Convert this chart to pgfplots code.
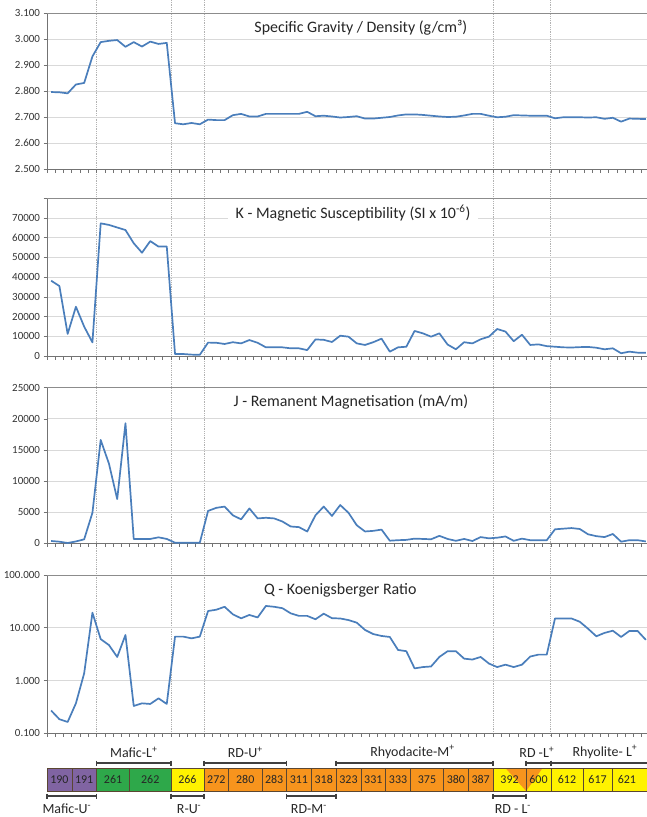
\documentclass[border=0pt]{standalone}
\usepackage{pgfplots}
\pgfplotsset{compat=1.18}
\usepackage{fontspec}
\setmainfont{Carlito}
\definecolor{lineblue}{RGB}{74,126,187}
\definecolor{cpurple}{RGB}{128,100,162}
\definecolor{cgreen}{RGB}{46,168,74}
\definecolor{cyellow}{RGB}{255,242,0}
\definecolor{corange}{RGB}{247,148,29}
\definecolor{cellline}{RGB}{90,70,50}
\tikzset{sline/.style={draw=lineblue, line width=1.7bp, mark=none, line join=round}}
\pgfplotsset{
  panel/.style={
    scale only axis, width=603bp, xmin=-0.5, xmax=72.5,
    anchor=north west,
    axis x line*=bottom, axis y line*=left,
    axis line style={draw=black!55, line width=0.9bp},
    xtick={-0.5,0.5,...,72.5}, xticklabels={},
    tick align=outside, major tick length=3.5bp,
    tick style={draw=black!55, line width=0.6bp},
    ymajorgrids, grid style={draw=black!15, line width=0.7bp},
    yticklabel style={font=\fontsize{11}{13}\selectfont, text=black!80},
    scaled y ticks=false,
  },
  frame/.style={hide axis, scale only axis, width=603bp, height=817bp,
    xmin=0, xmax=73, ymin=0, ymax=817, y dir=reverse, clip=false,
    at={(47bp,0bp)}, anchor=north west},
}
\begin{document}
\begin{tikzpicture}
\useasboundingbox (0,0) rectangle (647bp,-817bp);
% dotted group boundaries
\begin{axis}[frame]
\foreach \b in {6,15,19,54,61}{
  \edef\temp{\noexpand\draw[densely dotted, black!30, line width=0.8bp] (axis cs:\b,0) -- (axis cs:\b,736);}
  \temp
}
\end{axis}
% Panel 1: Specific gravity
\begin{axis}[panel, at={(47bp,-13bp)}, height=156bp,
  ymin=2.5, ymax=3.1, ytick={2.5,2.6,2.7,2.8,2.9,3.0,3.1},
  yticklabels={2.500,2.600,2.700,2.800,2.900,3.000,3.100}]
\draw[black!45, line width=0.8bp] (rel axis cs:0,1) -- (rel axis cs:1,1);
\addplot[sline] coordinates {(0,2.796)(1,2.795)(2,2.791)(3,2.825)(4,2.831)(5,2.933)(6,2.988)(7,2.993)(8,2.996)(9,2.970)(10,2.988)(11,2.971)(12,2.990)(13,2.981)(14,2.985)(15,2.676)(16,2.672)(17,2.677)(18,2.672)(19,2.690)(20,2.688)(21,2.688)(22,2.707)(23,2.712)(24,2.702)(25,2.702)(26,2.712)(27,2.712)(28,2.712)(29,2.712)(30,2.712)(31,2.720)(32,2.703)(33,2.705)(34,2.702)(35,2.698)(36,2.700)(37,2.703)(38,2.694)(39,2.694)(40,2.697)(41,2.700)(42,2.706)(43,2.710)(44,2.710)(45,2.708)(46,2.705)(47,2.702)(48,2.700)(49,2.701)(50,2.706)(51,2.712)(52,2.712)(53,2.705)(54,2.699)(55,2.701)(56,2.707)(57,2.706)(58,2.705)(59,2.705)(60,2.705)(61,2.695)(62,2.699)(63,2.699)(64,2.699)(65,2.698)(66,2.699)(67,2.693)(68,2.697)(69,2.682)(70,2.694)(71,2.693)(72,2.692)};
\end{axis}
% Panel 2: K
\begin{axis}[panel, at={(47bp,-198.3bp)}, height=157.7bp,
  ymin=0, ymax=80000, ytick={0,10000,20000,30000,40000,50000,60000,70000,80000},
  yticklabels={0,10000,20000,30000,40000,50000,60000,70000,{}}]
\draw[black!45, line width=0.8bp] (rel axis cs:0,1) -- (rel axis cs:1,1);
\addplot[sline] coordinates {(0,38200)(1,35500)(2,11200)(3,25000)(4,14900)(5,6900)(6,67300)(7,66500)(8,65200)(9,63900)(10,57200)(11,52400)(12,58300)(13,55500)(14,55500)(15,1000)(16,1000)(17,700)(18,600)(19,6800)(20,6700)(21,6100)(22,7000)(23,6400)(24,8100)(25,6700)(26,4400)(27,4400)(28,4400)(29,3900)(30,3900)(31,3000)(32,8400)(33,8200)(34,7100)(35,10300)(36,9800)(37,6400)(38,5600)(39,7000)(40,8800)(41,2200)(42,4400)(43,4700)(44,12700)(45,11500)(46,9800)(47,11500)(48,5800)(49,3400)(50,7000)(51,6400)(52,8500)(53,9800)(54,13700)(55,12400)(56,7500)(57,10800)(58,5600)(59,5900)(60,5000)(61,4700)(62,4400)(63,4300)(64,4500)(65,4600)(66,4200)(67,3400)(68,3900)(69,1400)(70,2200)(71,1700)(72,1600)};
\end{axis}
% Panel 3: J
\begin{axis}[panel, at={(47bp,-387.7bp)}, height=155.6bp,
  ymin=0, ymax=25000, ytick={0,5000,10000,15000,20000,25000},
  yticklabels={0,5000,10000,15000,20000,25000}]
\draw[black!45, line width=0.8bp] (rel axis cs:0,1) -- (rel axis cs:1,1);
\addplot[sline] coordinates {(0,370)(1,260)(2,50)(3,300)(4,640)(5,4900)(6,16600)(7,12800)(8,7100)(9,19300)(10,700)(11,700)(12,700)(13,960)(14,700)(15,100)(16,100)(17,100)(18,100)(19,5200)(20,5700)(21,5900)(22,4500)(23,3850)(24,5600)(25,4000)(26,4100)(27,4000)(28,3500)(29,2700)(30,2600)(31,1900)(32,4500)(33,5900)(34,4400)(35,6150)(36,4900)(37,2900)(38,1900)(39,2000)(40,2200)(41,420)(42,500)(43,550)(44,750)(45,700)(46,650)(47,1200)(48,700)(49,400)(50,700)(51,370)(52,1000)(53,800)(54,900)(55,1100)(56,400)(57,750)(58,500)(59,500)(60,500)(61,2250)(62,2350)(63,2450)(64,2300)(65,1450)(66,1150)(67,1000)(68,1500)(69,260)(70,500)(71,500)(72,300)};
\end{axis}
% Panel 4: Q
\begin{axis}[panel, at={(47bp,-575bp)}, height=158.3bp,
  ymode=log, ymin=0.1, ymax=100, ytick={0.1,1,10,100}, yminorticks=false,
  yticklabels={0.100,1.000,10.000,100.000}]
\draw[black!45, line width=0.8bp] (rel axis cs:0,1) -- (rel axis cs:1,1);
\addplot[sline] coordinates {(0,0.27)(1,0.185)(2,0.164)(3,0.37)(4,1.37)(5,19.3)(6,6.1)(7,4.7)(8,2.8)(9,7.3)(10,0.33)(11,0.37)(12,0.36)(13,0.46)(14,0.36)(15,6.8)(16,6.8)(17,6.3)(18,6.8)(19,20.8)(20,22)(21,25)(22,18)(23,15.1)(24,17.5)(25,15.7)(26,25.9)(27,25)(28,23.5)(29,18.8)(30,16.8)(31,16.8)(32,14.5)(33,18.5)(34,15.2)(35,15)(36,14)(37,12.5)(38,9.1)(39,7.6)(40,7.0)(41,6.7)(42,3.8)(43,3.6)(44,1.7)(45,1.8)(46,1.85)(47,2.8)(48,3.6)(49,3.6)(50,2.6)(51,2.5)(52,2.8)(53,2.1)(54,1.8)(55,2.0)(56,1.8)(57,2.0)(58,2.85)(59,3.1)(60,3.1)(61,15)(62,15)(63,15)(64,13)(65,9.6)(66,6.9)(67,8.0)(68,8.8)(69,6.7)(70,8.7)(71,8.7)(72,5.9)};
\end{axis}
% titles, strip and brackets
\begin{axis}[frame]
\tikzset{ttl/.style={fill=white, inner xsep=8bp, inner ysep=1bp, text=black!85, font=\fontsize{16}{18}\selectfont}}
\node[ttl] at (axis cs:38,28) {Specific Gravity / Density (g/cm³)};
\node[ttl] at (axis cs:37.05,213) {K - Magnetic Susceptibility (SI x 10\textsuperscript{-6})};
\node[ttl] at (axis cs:36.8,402) {J - Remanent Magnetisation (mA/m)};
\node[ttl] at (axis cs:35.5,590) {Q - Koenigsberger Ratio};
% strip cells
\tikzset{cell/.style={draw=cellline, line width=0.5bp}, num/.style={font=\fontsize{12}{14}\selectfont, text=black!85}}
\filldraw[cell, fill=cpurple] (axis cs:0,768) rectangle (axis cs:3,791);
\filldraw[cell, fill=cpurple] (axis cs:3,768) rectangle (axis cs:6,791);
\filldraw[cell, fill=cgreen] (axis cs:6,768) rectangle (axis cs:10,791);
\filldraw[cell, fill=cgreen] (axis cs:10,768) rectangle (axis cs:15,791);
\filldraw[cell, fill=cyellow] (axis cs:15,768) rectangle (axis cs:19,791);
\foreach \a/\b in {19/22,22/26,26/29,29/32,32/35,35/38,38/41,41/44,44/48,48/51,51/54}{
  \edef\temp{\noexpand\filldraw[cell, fill=corange] (axis cs:\a,768) rectangle (axis cs:\b,791);}
  \temp
}
\fill[cyellow] (axis cs:54,768) rectangle (axis cs:61,791);
\fill[corange] (axis cs:55.5,768) -- (axis cs:60,768) -- (axis cs:58,791) -- cycle;
\draw[cell] (axis cs:54,768) rectangle (axis cs:58,791);
\draw[cell] (axis cs:58,768) rectangle (axis cs:61,791);
\foreach \a/\b in {61/64.9,64.9/68.4,68.4/73}{
  \edef\temp{\noexpand\filldraw[cell, fill=cyellow] (axis cs:\a,768) rectangle (axis cs:\b,791);}
  \temp
}
\foreach \c/\t in {1.5/190,4.5/191,8/261,12.5/262,17/266,20.5/272,24/280,27.5/283,30.5/311,33.5/318,36.5/323,39.5/331,42.5/333,46/375,49.5/380,52.5/387,56/392,59.5/600,62.95/612,66.65/617,70.2/621}{
  \edef\temp{\noexpand\node[num] at (axis cs:\c,779.5) {\t};}
  \temp
}
% brackets
\tikzset{brk/.style={draw=black!75, line width=1.3bp}, lab/.style={font=\fontsize{14}{16}\selectfont, text=black!85}}
\foreach \a/\b in {6/15,19/29,35/54,58/61,61/73}{
  \edef\temp{\noexpand\draw[brk] (axis cs:\a,760.5) -- (axis cs:\a,765.5) (axis cs:\a,763) -- (axis cs:\b,763) (axis cs:\b,760.5) -- (axis cs:\b,765.5);}
  \temp
}
\foreach \a/\b in {0/6,15/19,29/35,54/58}{
  \edef\temp{\noexpand\draw[brk] (axis cs:\a,793.5) -- (axis cs:\a,798.5) (axis cs:\a,796) -- (axis cs:\b,796) (axis cs:\b,793.5) -- (axis cs:\b,798.5);}
  \temp
}
\node[lab] at (axis cs:10.5,752) {Mafic-L\textsuperscript{+}};
\node[lab] at (axis cs:24,752) {RD-U\textsuperscript{+}};
\node[lab] at (axis cs:44.25,752) {Rhyodacite-M\textsuperscript{+}};
\node[lab] at (axis cs:59.3,752) {RD -L\textsuperscript{+}};
\node[lab] at (axis cs:67.55,752) {Rhyolite- L\textsuperscript{+}};
\node[lab] at (axis cs:2.4,809) {Mafic-U\textsuperscript{-}};
\node[lab] at (axis cs:17.2,809) {R-U\textsuperscript{-}};
\node[lab] at (axis cs:31.7,809) {RD-M\textsuperscript{-}};
\node[lab] at (axis cs:56.4,809) {RD - L\textsuperscript{-}};
\end{axis}
\end{tikzpicture}
\end{document}
